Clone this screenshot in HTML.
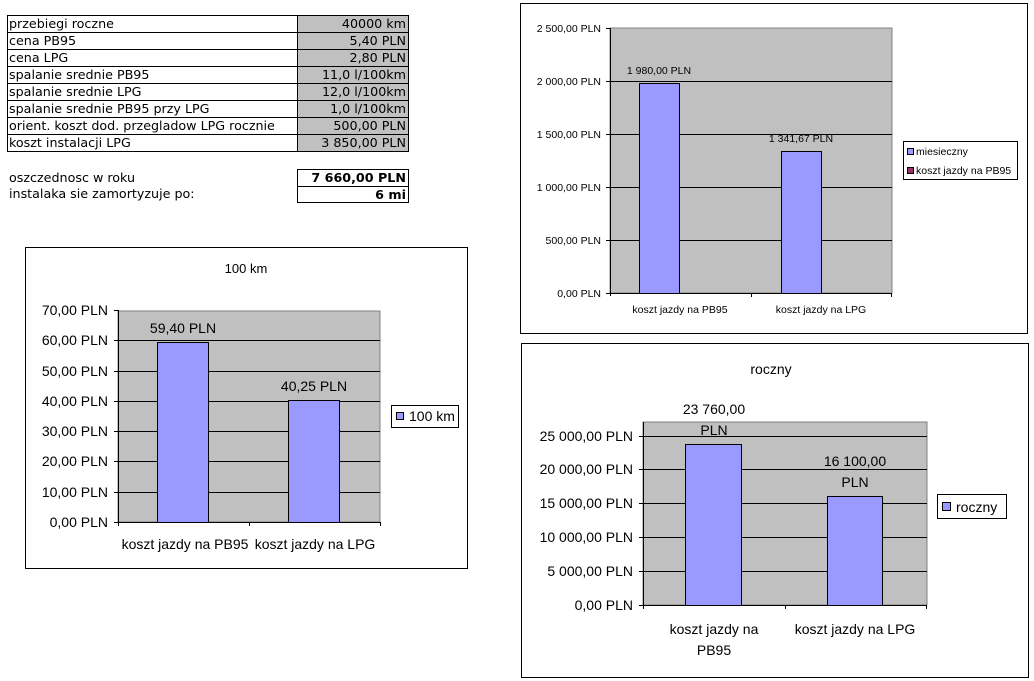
<!DOCTYPE html>
<html><head><meta charset="utf-8"><style>
html,body{margin:0;padding:0;background:#fff;}
svg{display:block;}
.t{font-family:"DejaVu Sans","Liberation Sans",sans-serif;font-size:12.7px;fill:#000;}
.a{font-family:"Liberation Sans",sans-serif;fill:#000;}
</style></head><body>
<svg width="1034" height="681" viewBox="0 0 1034 681" xmlns="http://www.w3.org/2000/svg">
<!-- table -->
<rect x="297" y="15" width="111" height="136" fill="#c0c0c0"/>
<g stroke="#000" stroke-width="1" fill="none" shape-rendering="crispEdges">
<rect x="7.5" y="15.5" width="401" height="136"/>
<line x1="297.5" y1="15" x2="297.5" y2="152"/>
<line x1="7" y1="32.5" x2="409" y2="32.5"/><line x1="7" y1="49.5" x2="409" y2="49.5"/>
<line x1="7" y1="66.5" x2="409" y2="66.5"/><line x1="7" y1="83.5" x2="409" y2="83.5"/>
<line x1="7" y1="100.5" x2="409" y2="100.5"/><line x1="7" y1="117.5" x2="409" y2="117.5"/>
<line x1="7" y1="134.5" x2="409" y2="134.5"/>
<rect x="297.5" y="169.5" width="111" height="33"/>
<line x1="297" y1="186.5" x2="409" y2="186.5"/>
</g>
<g class="t">
<text x="9" y="28">przebiegi roczne</text>
<text x="9" y="45">cena PB95</text>
<text x="9" y="62">cena LPG</text>
<text x="9" y="79">spalanie srednie PB95</text>
<text x="9" y="96">spalanie srednie LPG</text>
<text x="9" y="113">spalanie srednie PB95 przy LPG</text>
<text x="9" y="130">orient. koszt dod. przegladow LPG rocznie</text>
<text x="9" y="147">koszt instalacji LPG</text>
<g text-anchor="end">
<text x="406" y="28">40000 km</text>
<text x="406" y="45">5,40 PLN</text>
<text x="406" y="62">2,80 PLN</text>
<text x="406" y="79">11,0 l/100km</text>
<text x="406" y="96">12,0 l/100km</text>
<text x="406" y="113">1,0 l/100km</text>
<text x="406" y="130">500,00 PLN</text>
<text x="406" y="147">3 850,00 PLN</text>
<text x="406" y="182" font-weight="bold">7 660,00 PLN</text>
<text x="406" y="199" font-weight="bold">6 mi</text>
</g>
<text x="9" y="182">oszczednosc w roku</text>
<text x="9" y="198">instalaka sie zamortyzuje po:</text>
</g>

<!-- top right chart -->
<rect x="520.5" y="3.5" width="507" height="330" fill="#fff" stroke="#000"/>
<rect x="610" y="28" width="282" height="265" fill="#c0c0c0" stroke="#808080"/>
<g stroke="#000" shape-rendering="crispEdges">
<line x1="610" y1="81.5" x2="892" y2="81.5"/><line x1="610" y1="134.5" x2="892" y2="134.5"/>
<line x1="610" y1="187.5" x2="892" y2="187.5"/><line x1="610" y1="240.5" x2="892" y2="240.5"/>
<line x1="606" y1="293.5" x2="892" y2="293.5"/><line x1="610.5" y1="28" x2="610.5" y2="296"/>
<line x1="606" y1="28.5" x2="610" y2="28.5"/><line x1="606" y1="81.5" x2="610" y2="81.5"/><line x1="606" y1="134.5" x2="610" y2="134.5"/><line x1="606" y1="187.5" x2="610" y2="187.5"/><line x1="606" y1="240.5" x2="610" y2="240.5"/>
<line x1="751.5" y1="293" x2="751.5" y2="297"/><line x1="891.5" y1="293" x2="891.5" y2="297"/>
</g>
<rect x="639.5" y="83.5" width="40" height="210" fill="#9999ff" stroke="#000"/>
<rect x="781.5" y="151.5" width="40" height="142" fill="#9999ff" stroke="#000"/>
<g class="a" font-size="10.5px" text-anchor="end">
<text x="601" y="32">2 500,00 PLN</text><text x="601" y="85">2 000,00 PLN</text>
<text x="601" y="138">1 500,00 PLN</text><text x="601" y="191">1 000,00 PLN</text>
<text x="601" y="244">500,00 PLN</text><text x="601" y="297">0,00 PLN</text>
</g>
<g class="a" font-size="10.5px" text-anchor="middle">
<text x="659" y="74">1 980,00 PLN</text><text x="801" y="142">1 341,67 PLN</text>
<text x="680" y="313">koszt jazdy na PB95</text><text x="821" y="313">koszt jazdy na LPG</text>
</g>
<rect x="903.5" y="141.5" width="114" height="38" fill="#fff" stroke="#000"/>
<rect x="907.5" y="148.5" width="6" height="6" fill="#9999ff" stroke="#000"/>
<rect x="907.5" y="167.5" width="6" height="6" fill="#993366" stroke="#000"/>
<g class="a" font-size="10.5px"><text x="916" y="155">miesieczny</text><text x="916" y="174">koszt jazdy na PB95</text></g>

<!-- left chart -->
<rect x="25.5" y="247.5" width="442" height="321" fill="#fff" stroke="#000"/>
<text class="a" font-size="13px" x="246" y="273" text-anchor="middle">100 km</text>
<rect x="118" y="311" width="262" height="211" fill="#c0c0c0" stroke="#808080"/>
<g stroke="#000" shape-rendering="crispEdges">
<line x1="114" y1="340.5" x2="380" y2="340.5"/><line x1="114" y1="371.5" x2="380" y2="371.5"/>
<line x1="114" y1="401.5" x2="380" y2="401.5"/><line x1="114" y1="431.5" x2="380" y2="431.5"/>
<line x1="114" y1="461.5" x2="380" y2="461.5"/><line x1="114" y1="492.5" x2="380" y2="492.5"/>
<line x1="114" y1="522.5" x2="380" y2="522.5"/><line x1="114" y1="310.5" x2="118" y2="310.5"/>
<line x1="118.5" y1="310" x2="118.5" y2="526"/><line x1="249.5" y1="522" x2="249.5" y2="526"/><line x1="380.5" y1="522" x2="380.5" y2="526"/>
</g>
<rect x="157.5" y="342.5" width="51" height="180" fill="#9999ff" stroke="#000"/>
<rect x="288.5" y="400.5" width="51" height="122" fill="#9999ff" stroke="#000"/>
<g class="a" font-size="14px" text-anchor="end">
<text x="108" y="315">70,00 PLN</text><text x="108" y="345">60,00 PLN</text>
<text x="108" y="376">50,00 PLN</text><text x="108" y="406">40,00 PLN</text>
<text x="108" y="436">30,00 PLN</text><text x="108" y="466">20,00 PLN</text>
<text x="108" y="497">10,00 PLN</text><text x="108" y="527">0,00 PLN</text>
</g>
<g class="a" font-size="14px" text-anchor="middle">
<text x="183" y="333">59,40 PLN</text><text x="314" y="391">40,25 PLN</text>
<text x="185" y="549">koszt jazdy na PB95</text><text x="315" y="549">koszt jazdy na LPG</text>
</g>
<rect x="391.5" y="405.5" width="67" height="22" fill="#fff" stroke="#000"/>
<rect x="396.5" y="412.5" width="7" height="7" fill="#9999ff" stroke="#000"/>
<text class="a" font-size="14px" x="409" y="421">100 km</text>

<!-- bottom right chart -->
<rect x="521.5" y="343.5" width="507" height="334" fill="#fff" stroke="#000"/>
<text class="a" font-size="14px" x="771" y="374" text-anchor="middle">roczny</text>
<rect x="643" y="422" width="284" height="183" fill="#c0c0c0" stroke="#808080"/>
<g stroke="#000" shape-rendering="crispEdges">
<line x1="639" y1="436.5" x2="927" y2="436.5"/><line x1="639" y1="469.5" x2="927" y2="469.5"/>
<line x1="639" y1="503.5" x2="927" y2="503.5"/><line x1="639" y1="537.5" x2="927" y2="537.5"/>
<line x1="639" y1="571.5" x2="927" y2="571.5"/><line x1="639" y1="605.5" x2="927" y2="605.5"/>
<line x1="643.5" y1="422" x2="643.5" y2="609"/><line x1="785.5" y1="605" x2="785.5" y2="609"/><line x1="926.5" y1="605" x2="926.5" y2="609"/>
</g>
<rect x="685.5" y="444.5" width="56" height="161" fill="#9999ff" stroke="#000"/>
<rect x="827.5" y="496.5" width="55" height="109" fill="#9999ff" stroke="#000"/>
<g class="a" font-size="14px" text-anchor="end">
<text x="633" y="441">25 000,00 PLN</text><text x="633" y="474">20 000,00 PLN</text>
<text x="633" y="508">15 000,00 PLN</text><text x="633" y="542">10 000,00 PLN</text>
<text x="633" y="576">5 000,00 PLN</text><text x="633" y="610">0,00 PLN</text>
</g>
<g class="a" font-size="14px" text-anchor="middle">
<text x="714" y="414">23 760,00</text><text x="714" y="435">PLN</text>
<text x="855" y="466">16 100,00</text><text x="855" y="487">PLN</text>
<text x="714" y="634">koszt jazdy na</text><text x="714" y="655">PB95</text>
<text x="855" y="634">koszt jazdy na LPG</text>
</g>
<rect x="937.5" y="494.5" width="69" height="24" fill="#fff" stroke="#000"/>
<rect x="942.5" y="502.5" width="8" height="8" fill="#9999ff" stroke="#000"/>
<text class="a" font-size="14px" x="956" y="512">roczny</text>
</svg>
</body></html>
